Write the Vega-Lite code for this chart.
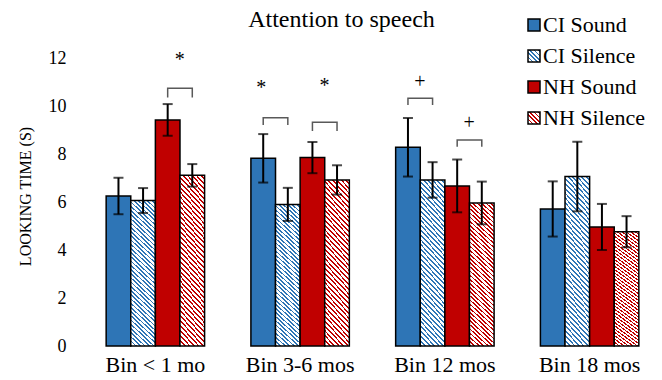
{
  "$schema": "https://vega.github.io/schema/vega-lite/v6.json",
  "width": 579,
  "height": 288,
  "autosize": {"type": "none"},
  "padding": {"left": 83, "top": 58, "right": 0, "bottom": 34},
  "config": {"font": "Liberation Serif", "view": {"stroke": null},
    "style": {"guide-title": {"fontSize": 16, "font": "Liberation Serif", "fontWeight": "normal", "fill": "black"}},
    "axis": {"titleFontSize": 16, "titleFont": "Liberation Serif", "titleFontWeight": "normal", "titleColor": "black"},
    "axisY": {"grid": false, "domain": false, "ticks": false, "labelFont": "Liberation Serif", "labelFontSize": 18, "labelColor": "black", "labelPadding": 17, "titleFontSize": 16}},
  "title": {"text": "Attention to speech", "fontSize": 24, "fontWeight": "normal", "font": "Liberation Serif", "color": "black", "anchor": "middle", "frame": "group", "dx": -31, "dy": 37, "baseline": "alphabetic", "offset": 0},
  "encoding": {
    "x": {"field": "bin", "type": "nominal", "sort": null,
      "scale": {"domain": ["Bin < 1 mo", "Bin 3-6 mos", "Bin 12 mos", "Bin 18 mos"], "paddingInner": 0.32, "paddingOuter": 0.16},
      "axis": {"title": null, "labelAngle": 0, "domain": false, "ticks": false, "labelFont": "Liberation Serif", "labelFontSize": 22, "labelColor": "black", "labelPadding": 8}},
    "xOffset": {"field": "series", "type": "nominal", "sort": null,
      "scale": {"domain": ["CI Sound", "CI Silence", "NH Sound", "NH Silence"], "paddingInner": 0, "paddingOuter": 0}}
  },
  "layer": [
    {
      "data": {"name": "bars", "values": [
        {"bin": "Bin < 1 mo", "series": "CI Sound", "mean": 6.25, "lo": 5.49, "hi": 7.01},
        {"bin": "Bin < 1 mo", "series": "CI Silence", "mean": 6.06, "lo": 5.54, "hi": 6.58},
        {"bin": "Bin < 1 mo", "series": "NH Sound", "mean": 9.42, "lo": 8.76, "hi": 10.08},
        {"bin": "Bin < 1 mo", "series": "NH Silence", "mean": 7.11, "lo": 6.64, "hi": 7.58},
        {"bin": "Bin 3-6 mos", "series": "CI Sound", "mean": 7.82, "lo": 6.81, "hi": 8.83},
        {"bin": "Bin 3-6 mos", "series": "CI Silence", "mean": 5.90, "lo": 5.21, "hi": 6.59},
        {"bin": "Bin 3-6 mos", "series": "NH Sound", "mean": 7.85, "lo": 7.20, "hi": 8.50},
        {"bin": "Bin 3-6 mos", "series": "NH Silence", "mean": 6.92, "lo": 6.31, "hi": 7.53},
        {"bin": "Bin 12 mos", "series": "CI Sound", "mean": 8.28, "lo": 7.06, "hi": 9.50},
        {"bin": "Bin 12 mos", "series": "CI Silence", "mean": 6.92, "lo": 6.18, "hi": 7.66},
        {"bin": "Bin 12 mos", "series": "NH Sound", "mean": 6.67, "lo": 5.57, "hi": 7.77},
        {"bin": "Bin 12 mos", "series": "NH Silence", "mean": 5.96, "lo": 5.07, "hi": 6.85},
        {"bin": "Bin 18 mos", "series": "CI Sound", "mean": 5.71, "lo": 4.56, "hi": 6.86},
        {"bin": "Bin 18 mos", "series": "CI Silence", "mean": 7.06, "lo": 5.61, "hi": 8.51},
        {"bin": "Bin 18 mos", "series": "NH Sound", "mean": 4.96, "lo": 4.00, "hi": 5.92},
        {"bin": "Bin 18 mos", "series": "NH Silence", "mean": 4.76, "lo": 4.11, "hi": 5.41}
      ]},
      "layer": [
        {
          "mark": {"type": "bar", "stroke": "black", "strokeWidth": 1.5},
          "encoding": {
            "y": {"field": "mean", "type": "quantitative",
              "scale": {"domain": [0, 12], "nice": false},
              "axis": {"values": [0, 2, 4, 6, 8, 10, 12], "title": "LOOKING TIME (S)", "titleFont": "Liberation Serif", "titleFontSize": 16, "titleFontWeight": "normal", "titleColor": "black", "titleX": -58, "titleY": 138, "titleAngle": 270, "titleAlign": "center", "titleBaseline": "middle"}},
            "fill": {"field": "series", "type": "nominal",
              "scale": {"domain": ["CI Sound", "CI Silence", "NH Sound", "NH Silence"],
                "range": [
                  "#2E75B6",
                  {"expr": "{gradient: 'linear', x1: 0, y1: 1, x2: 1, y2: 0, stops: [{offset: 0, color: '#2E75B6'}, {offset: 0.07, color: '#2E75B6'}, {offset: 0.07, color: '#fff'}, {offset: 0.18, color: '#fff'}, {offset: 0.18, color: '#2E75B6'}, {offset: 0.25, color: '#2E75B6'}, {offset: 0.25, color: '#fff'}, {offset: 0.36, color: '#fff'}, {offset: 0.36, color: '#2E75B6'}, {offset: 0.43, color: '#2E75B6'}, {offset: 0.43, color: '#fff'}, {offset: 0.54, color: '#fff'}, {offset: 0.54, color: '#2E75B6'}, {offset: 0.61, color: '#2E75B6'}, {offset: 0.61, color: '#fff'}, {offset: 0.72, color: '#fff'}, {offset: 0.72, color: '#2E75B6'}, {offset: 0.79, color: '#2E75B6'}, {offset: 0.79, color: '#fff'}, {offset: 0.90, color: '#fff'}, {offset: 0.90, color: '#2E75B6'}, {offset: 0.97, color: '#2E75B6'}, {offset: 0.97, color: '#fff'}, {offset: 1, color: '#fff'}]}"},
                  "#C00000",
                  {"expr": "{gradient: 'linear', x1: 0, y1: 1, x2: 1, y2: 0, stops: [{offset: 0, color: '#C00000'}, {offset: 0.07, color: '#C00000'}, {offset: 0.07, color: '#fff'}, {offset: 0.18, color: '#fff'}, {offset: 0.18, color: '#C00000'}, {offset: 0.25, color: '#C00000'}, {offset: 0.25, color: '#fff'}, {offset: 0.36, color: '#fff'}, {offset: 0.36, color: '#C00000'}, {offset: 0.43, color: '#C00000'}, {offset: 0.43, color: '#fff'}, {offset: 0.54, color: '#fff'}, {offset: 0.54, color: '#C00000'}, {offset: 0.61, color: '#C00000'}, {offset: 0.61, color: '#fff'}, {offset: 0.72, color: '#fff'}, {offset: 0.72, color: '#C00000'}, {offset: 0.79, color: '#C00000'}, {offset: 0.79, color: '#fff'}, {offset: 0.90, color: '#fff'}, {offset: 0.90, color: '#C00000'}, {offset: 0.97, color: '#C00000'}, {offset: 0.97, color: '#fff'}, {offset: 1, color: '#fff'}]}"}
                ]},
              "condition": [
                {"test": "datum.series === 'CI Silence'", "value": {"gradient": "linear", "x1": 0, "y1": 1, "x2": 0.18, "y2": -0.13, "stops": [
{"offset":0,"color":"#2E75B6"},{"offset":0.01,"color":"#2E75B6"},{"offset":0.01,"color":"#fff"},{"offset":0.025,"color":"#fff"},{"offset":0.025,"color":"#2E75B6"},{"offset":0.035,"color":"#2E75B6"},{"offset":0.035,"color":"#fff"},{"offset":0.05,"color":"#fff"},
{"offset":0.05,"color":"#2E75B6"},{"offset":0.06,"color":"#2E75B6"},{"offset":0.06,"color":"#fff"},{"offset":0.075,"color":"#fff"},{"offset":0.075,"color":"#2E75B6"},{"offset":0.085,"color":"#2E75B6"},{"offset":0.085,"color":"#fff"},{"offset":0.1,"color":"#fff"},
{"offset":0.1,"color":"#2E75B6"},{"offset":0.11,"color":"#2E75B6"},{"offset":0.11,"color":"#fff"},{"offset":0.125,"color":"#fff"},{"offset":0.125,"color":"#2E75B6"},{"offset":0.135,"color":"#2E75B6"},{"offset":0.135,"color":"#fff"},{"offset":0.15,"color":"#fff"},
{"offset":0.15,"color":"#2E75B6"},{"offset":0.16,"color":"#2E75B6"},{"offset":0.16,"color":"#fff"},{"offset":0.175,"color":"#fff"},{"offset":0.175,"color":"#2E75B6"},{"offset":0.185,"color":"#2E75B6"},{"offset":0.185,"color":"#fff"},{"offset":0.2,"color":"#fff"},
{"offset":0.2,"color":"#2E75B6"},{"offset":0.21,"color":"#2E75B6"},{"offset":0.21,"color":"#fff"},{"offset":0.225,"color":"#fff"},{"offset":0.225,"color":"#2E75B6"},{"offset":0.235,"color":"#2E75B6"},{"offset":0.235,"color":"#fff"},{"offset":0.25,"color":"#fff"},
{"offset":0.25,"color":"#2E75B6"},{"offset":0.26,"color":"#2E75B6"},{"offset":0.26,"color":"#fff"},{"offset":0.275,"color":"#fff"},{"offset":0.275,"color":"#2E75B6"},{"offset":0.285,"color":"#2E75B6"},{"offset":0.285,"color":"#fff"},{"offset":0.3,"color":"#fff"},
{"offset":0.3,"color":"#2E75B6"},{"offset":0.31,"color":"#2E75B6"},{"offset":0.31,"color":"#fff"},{"offset":0.325,"color":"#fff"},{"offset":0.325,"color":"#2E75B6"},{"offset":0.335,"color":"#2E75B6"},{"offset":0.335,"color":"#fff"},{"offset":0.35,"color":"#fff"},
{"offset":0.35,"color":"#2E75B6"},{"offset":0.36,"color":"#2E75B6"},{"offset":0.36,"color":"#fff"},{"offset":0.375,"color":"#fff"},{"offset":0.375,"color":"#2E75B6"},{"offset":0.385,"color":"#2E75B6"},{"offset":0.385,"color":"#fff"},{"offset":0.4,"color":"#fff"},
{"offset":0.4,"color":"#2E75B6"},{"offset":0.41,"color":"#2E75B6"},{"offset":0.41,"color":"#fff"},{"offset":0.425,"color":"#fff"},{"offset":0.425,"color":"#2E75B6"},{"offset":0.435,"color":"#2E75B6"},{"offset":0.435,"color":"#fff"},{"offset":0.45,"color":"#fff"},
{"offset":0.45,"color":"#2E75B6"},{"offset":0.46,"color":"#2E75B6"},{"offset":0.46,"color":"#fff"},{"offset":0.475,"color":"#fff"},{"offset":0.475,"color":"#2E75B6"},{"offset":0.485,"color":"#2E75B6"},{"offset":0.485,"color":"#fff"},{"offset":0.5,"color":"#fff"},
{"offset":0.5,"color":"#2E75B6"},{"offset":0.51,"color":"#2E75B6"},{"offset":0.51,"color":"#fff"},{"offset":0.525,"color":"#fff"},{"offset":0.525,"color":"#2E75B6"},{"offset":0.535,"color":"#2E75B6"},{"offset":0.535,"color":"#fff"},{"offset":0.55,"color":"#fff"},
{"offset":0.55,"color":"#2E75B6"},{"offset":0.56,"color":"#2E75B6"},{"offset":0.56,"color":"#fff"},{"offset":0.575,"color":"#fff"},{"offset":0.575,"color":"#2E75B6"},{"offset":0.585,"color":"#2E75B6"},{"offset":0.585,"color":"#fff"},{"offset":0.6,"color":"#fff"},
{"offset":0.6,"color":"#2E75B6"},{"offset":0.61,"color":"#2E75B6"},{"offset":0.61,"color":"#fff"},{"offset":0.625,"color":"#fff"},{"offset":0.625,"color":"#2E75B6"},{"offset":0.635,"color":"#2E75B6"},{"offset":0.635,"color":"#fff"},{"offset":0.65,"color":"#fff"},
{"offset":0.65,"color":"#2E75B6"},{"offset":0.66,"color":"#2E75B6"},{"offset":0.66,"color":"#fff"},{"offset":0.675,"color":"#fff"},{"offset":0.675,"color":"#2E75B6"},{"offset":0.685,"color":"#2E75B6"},{"offset":0.685,"color":"#fff"},{"offset":0.7,"color":"#fff"},
{"offset":0.7,"color":"#2E75B6"},{"offset":0.71,"color":"#2E75B6"},{"offset":0.71,"color":"#fff"},{"offset":0.725,"color":"#fff"},{"offset":0.725,"color":"#2E75B6"},{"offset":0.735,"color":"#2E75B6"},{"offset":0.735,"color":"#fff"},{"offset":0.75,"color":"#fff"},
{"offset":0.75,"color":"#2E75B6"},{"offset":0.76,"color":"#2E75B6"},{"offset":0.76,"color":"#fff"},{"offset":0.775,"color":"#fff"},{"offset":0.775,"color":"#2E75B6"},{"offset":0.785,"color":"#2E75B6"},{"offset":0.785,"color":"#fff"},{"offset":0.8,"color":"#fff"},
{"offset":0.8,"color":"#2E75B6"},{"offset":0.81,"color":"#2E75B6"},{"offset":0.81,"color":"#fff"},{"offset":0.825,"color":"#fff"},{"offset":0.825,"color":"#2E75B6"},{"offset":0.835,"color":"#2E75B6"},{"offset":0.835,"color":"#fff"},{"offset":0.85,"color":"#fff"},
{"offset":0.85,"color":"#2E75B6"},{"offset":0.86,"color":"#2E75B6"},{"offset":0.86,"color":"#fff"},{"offset":0.875,"color":"#fff"},{"offset":0.875,"color":"#2E75B6"},{"offset":0.885,"color":"#2E75B6"},{"offset":0.885,"color":"#fff"},{"offset":0.9,"color":"#fff"},
{"offset":0.9,"color":"#2E75B6"},{"offset":0.91,"color":"#2E75B6"},{"offset":0.91,"color":"#fff"},{"offset":0.925,"color":"#fff"},{"offset":0.925,"color":"#2E75B6"},{"offset":0.935,"color":"#2E75B6"},{"offset":0.935,"color":"#fff"},{"offset":0.95,"color":"#fff"},
{"offset":0.95,"color":"#2E75B6"},{"offset":0.96,"color":"#2E75B6"},{"offset":0.96,"color":"#fff"},{"offset":0.975,"color":"#fff"},{"offset":0.975,"color":"#2E75B6"},{"offset":0.985,"color":"#2E75B6"},{"offset":0.985,"color":"#fff"},{"offset":1,"color":"#fff"}
                ]}},
                {"test": "datum.series === 'NH Silence'", "value": {"gradient": "linear", "x1": 0, "y1": 1, "x2": 0.18, "y2": -0.13, "stops": [
{"offset":0,"color":"#C00000"},{"offset":0.01,"color":"#C00000"},{"offset":0.01,"color":"#fff"},{"offset":0.025,"color":"#fff"},{"offset":0.025,"color":"#C00000"},{"offset":0.035,"color":"#C00000"},{"offset":0.035,"color":"#fff"},{"offset":0.05,"color":"#fff"},
{"offset":0.05,"color":"#C00000"},{"offset":0.06,"color":"#C00000"},{"offset":0.06,"color":"#fff"},{"offset":0.075,"color":"#fff"},{"offset":0.075,"color":"#C00000"},{"offset":0.085,"color":"#C00000"},{"offset":0.085,"color":"#fff"},{"offset":0.1,"color":"#fff"},
{"offset":0.1,"color":"#C00000"},{"offset":0.11,"color":"#C00000"},{"offset":0.11,"color":"#fff"},{"offset":0.125,"color":"#fff"},{"offset":0.125,"color":"#C00000"},{"offset":0.135,"color":"#C00000"},{"offset":0.135,"color":"#fff"},{"offset":0.15,"color":"#fff"},
{"offset":0.15,"color":"#C00000"},{"offset":0.16,"color":"#C00000"},{"offset":0.16,"color":"#fff"},{"offset":0.175,"color":"#fff"},{"offset":0.175,"color":"#C00000"},{"offset":0.185,"color":"#C00000"},{"offset":0.185,"color":"#fff"},{"offset":0.2,"color":"#fff"},
{"offset":0.2,"color":"#C00000"},{"offset":0.21,"color":"#C00000"},{"offset":0.21,"color":"#fff"},{"offset":0.225,"color":"#fff"},{"offset":0.225,"color":"#C00000"},{"offset":0.235,"color":"#C00000"},{"offset":0.235,"color":"#fff"},{"offset":0.25,"color":"#fff"},
{"offset":0.25,"color":"#C00000"},{"offset":0.26,"color":"#C00000"},{"offset":0.26,"color":"#fff"},{"offset":0.275,"color":"#fff"},{"offset":0.275,"color":"#C00000"},{"offset":0.285,"color":"#C00000"},{"offset":0.285,"color":"#fff"},{"offset":0.3,"color":"#fff"},
{"offset":0.3,"color":"#C00000"},{"offset":0.31,"color":"#C00000"},{"offset":0.31,"color":"#fff"},{"offset":0.325,"color":"#fff"},{"offset":0.325,"color":"#C00000"},{"offset":0.335,"color":"#C00000"},{"offset":0.335,"color":"#fff"},{"offset":0.35,"color":"#fff"},
{"offset":0.35,"color":"#C00000"},{"offset":0.36,"color":"#C00000"},{"offset":0.36,"color":"#fff"},{"offset":0.375,"color":"#fff"},{"offset":0.375,"color":"#C00000"},{"offset":0.385,"color":"#C00000"},{"offset":0.385,"color":"#fff"},{"offset":0.4,"color":"#fff"},
{"offset":0.4,"color":"#C00000"},{"offset":0.41,"color":"#C00000"},{"offset":0.41,"color":"#fff"},{"offset":0.425,"color":"#fff"},{"offset":0.425,"color":"#C00000"},{"offset":0.435,"color":"#C00000"},{"offset":0.435,"color":"#fff"},{"offset":0.45,"color":"#fff"},
{"offset":0.45,"color":"#C00000"},{"offset":0.46,"color":"#C00000"},{"offset":0.46,"color":"#fff"},{"offset":0.475,"color":"#fff"},{"offset":0.475,"color":"#C00000"},{"offset":0.485,"color":"#C00000"},{"offset":0.485,"color":"#fff"},{"offset":0.5,"color":"#fff"},
{"offset":0.5,"color":"#C00000"},{"offset":0.51,"color":"#C00000"},{"offset":0.51,"color":"#fff"},{"offset":0.525,"color":"#fff"},{"offset":0.525,"color":"#C00000"},{"offset":0.535,"color":"#C00000"},{"offset":0.535,"color":"#fff"},{"offset":0.55,"color":"#fff"},
{"offset":0.55,"color":"#C00000"},{"offset":0.56,"color":"#C00000"},{"offset":0.56,"color":"#fff"},{"offset":0.575,"color":"#fff"},{"offset":0.575,"color":"#C00000"},{"offset":0.585,"color":"#C00000"},{"offset":0.585,"color":"#fff"},{"offset":0.6,"color":"#fff"},
{"offset":0.6,"color":"#C00000"},{"offset":0.61,"color":"#C00000"},{"offset":0.61,"color":"#fff"},{"offset":0.625,"color":"#fff"},{"offset":0.625,"color":"#C00000"},{"offset":0.635,"color":"#C00000"},{"offset":0.635,"color":"#fff"},{"offset":0.65,"color":"#fff"},
{"offset":0.65,"color":"#C00000"},{"offset":0.66,"color":"#C00000"},{"offset":0.66,"color":"#fff"},{"offset":0.675,"color":"#fff"},{"offset":0.675,"color":"#C00000"},{"offset":0.685,"color":"#C00000"},{"offset":0.685,"color":"#fff"},{"offset":0.7,"color":"#fff"},
{"offset":0.7,"color":"#C00000"},{"offset":0.71,"color":"#C00000"},{"offset":0.71,"color":"#fff"},{"offset":0.725,"color":"#fff"},{"offset":0.725,"color":"#C00000"},{"offset":0.735,"color":"#C00000"},{"offset":0.735,"color":"#fff"},{"offset":0.75,"color":"#fff"},
{"offset":0.75,"color":"#C00000"},{"offset":0.76,"color":"#C00000"},{"offset":0.76,"color":"#fff"},{"offset":0.775,"color":"#fff"},{"offset":0.775,"color":"#C00000"},{"offset":0.785,"color":"#C00000"},{"offset":0.785,"color":"#fff"},{"offset":0.8,"color":"#fff"},
{"offset":0.8,"color":"#C00000"},{"offset":0.81,"color":"#C00000"},{"offset":0.81,"color":"#fff"},{"offset":0.825,"color":"#fff"},{"offset":0.825,"color":"#C00000"},{"offset":0.835,"color":"#C00000"},{"offset":0.835,"color":"#fff"},{"offset":0.85,"color":"#fff"},
{"offset":0.85,"color":"#C00000"},{"offset":0.86,"color":"#C00000"},{"offset":0.86,"color":"#fff"},{"offset":0.875,"color":"#fff"},{"offset":0.875,"color":"#C00000"},{"offset":0.885,"color":"#C00000"},{"offset":0.885,"color":"#fff"},{"offset":0.9,"color":"#fff"},
{"offset":0.9,"color":"#C00000"},{"offset":0.91,"color":"#C00000"},{"offset":0.91,"color":"#fff"},{"offset":0.925,"color":"#fff"},{"offset":0.925,"color":"#C00000"},{"offset":0.935,"color":"#C00000"},{"offset":0.935,"color":"#fff"},{"offset":0.95,"color":"#fff"},
{"offset":0.95,"color":"#C00000"},{"offset":0.96,"color":"#C00000"},{"offset":0.96,"color":"#fff"},{"offset":0.975,"color":"#fff"},{"offset":0.975,"color":"#C00000"},{"offset":0.985,"color":"#C00000"},{"offset":0.985,"color":"#fff"},{"offset":1,"color":"#fff"}
                ]}}
              ],
              "legend": {"orient": "none", "legendX": 440, "legendY": -44, "title": null, "padding": 0,
                "symbolType": "square", "symbolSize": 144, "symbolStrokeColor": "black", "symbolStrokeWidth": 1.5,
                "labelFont": "Liberation Serif", "labelFontSize": 22, "labelColor": "black", "labelOffset": -2, "rowPadding": 9, "labelLimit": 300}
            }
          }
        },
        {
          "mark": {"type": "rule", "color": "black", "strokeWidth": 2},
          "encoding": {
            "y": {"field": "lo", "type": "quantitative"},
            "y2": {"field": "hi"}
          }
        },
        {
          "mark": {"type": "tick", "orient": "horizontal", "color": "black", "size": 10, "thickness": 2},
          "encoding": {"y": {"field": "lo", "type": "quantitative"}}
        },
        {
          "mark": {"type": "tick", "orient": "horizontal", "color": "black", "size": 10, "thickness": 2},
          "encoding": {"y": {"field": "hi", "type": "quantitative"}}
        }
      ]
    },
    {
      "data": {"name": "brackets", "values": [
        {"id": "b1", "bin": "Bin < 1 mo", "series": "NH Sound", "y": 10.35, "k": 1},
        {"id": "b1", "bin": "Bin < 1 mo", "series": "NH Sound", "y": 10.74, "k": 2},
        {"id": "b1", "bin": "Bin < 1 mo", "series": "NH Silence", "y": 10.74, "k": 3},
        {"id": "b1", "bin": "Bin < 1 mo", "series": "NH Silence", "y": 10.35, "k": 4},
        {"id": "b2", "bin": "Bin 3-6 mos", "series": "CI Sound", "y": 9.21, "k": 1},
        {"id": "b2", "bin": "Bin 3-6 mos", "series": "CI Sound", "y": 9.51, "k": 2},
        {"id": "b2", "bin": "Bin 3-6 mos", "series": "CI Silence", "y": 9.51, "k": 3},
        {"id": "b2", "bin": "Bin 3-6 mos", "series": "CI Silence", "y": 9.21, "k": 4},
        {"id": "b3", "bin": "Bin 3-6 mos", "series": "NH Sound", "y": 8.96, "k": 1},
        {"id": "b3", "bin": "Bin 3-6 mos", "series": "NH Sound", "y": 9.32, "k": 2},
        {"id": "b3", "bin": "Bin 3-6 mos", "series": "NH Silence", "y": 9.32, "k": 3},
        {"id": "b3", "bin": "Bin 3-6 mos", "series": "NH Silence", "y": 8.96, "k": 4},
        {"id": "b4", "bin": "Bin 12 mos", "series": "CI Sound", "y": 10.04, "k": 1},
        {"id": "b4", "bin": "Bin 12 mos", "series": "CI Sound", "y": 10.32, "k": 2},
        {"id": "b4", "bin": "Bin 12 mos", "series": "CI Silence", "y": 10.32, "k": 3},
        {"id": "b4", "bin": "Bin 12 mos", "series": "CI Silence", "y": 10.04, "k": 4},
        {"id": "b5", "bin": "Bin 12 mos", "series": "NH Sound", "y": 8.30, "k": 1},
        {"id": "b5", "bin": "Bin 12 mos", "series": "NH Sound", "y": 8.58, "k": 2},
        {"id": "b5", "bin": "Bin 12 mos", "series": "NH Silence", "y": 8.58, "k": 3},
        {"id": "b5", "bin": "Bin 12 mos", "series": "NH Silence", "y": 8.30, "k": 4}
      ]},
      "mark": {"type": "line", "color": "#595959", "strokeWidth": 1.5},
      "encoding": {
        "y": {"field": "y", "type": "quantitative"},
        "detail": {"field": "id"},
        "order": {"field": "k", "type": "quantitative"}
      }
    },
    {
      "data": {"name": "marks", "values": [
        {"bin": "Bin < 1 mo", "series": "NH Sound", "y": 11.9, "label": "*", "at": "between"},
        {"bin": "Bin 3-6 mos", "series": "CI Sound", "y": 10.75, "label": "*", "at": "bar"},
        {"bin": "Bin 3-6 mos", "series": "NH Sound", "y": 10.85, "label": "*", "at": "between"},
        {"bin": "Bin 12 mos", "series": "CI Sound", "y": 11.01, "label": "+", "at": "between"},
        {"bin": "Bin 12 mos", "series": "NH Sound", "y": 9.28, "label": "+", "at": "between"}
      ]},
      "layer": [
        {
          "transform": [{"filter": "datum.at === 'between'"}],
          "mark": {"type": "text", "font": "Liberation Serif", "fontSize": 20, "color": "black", "baseline": "middle", "dx": 12},
          "encoding": {"y": {"field": "y", "type": "quantitative"}, "text": {"field": "label"}}
        },
        {
          "transform": [{"filter": "datum.at === 'bar'"}],
          "mark": {"type": "text", "font": "Liberation Serif", "fontSize": 20, "color": "black", "baseline": "middle", "dx": -2},
          "encoding": {"y": {"field": "y", "type": "quantitative"}, "text": {"field": "label"}}
        }
      ]
    }
  ]
}
